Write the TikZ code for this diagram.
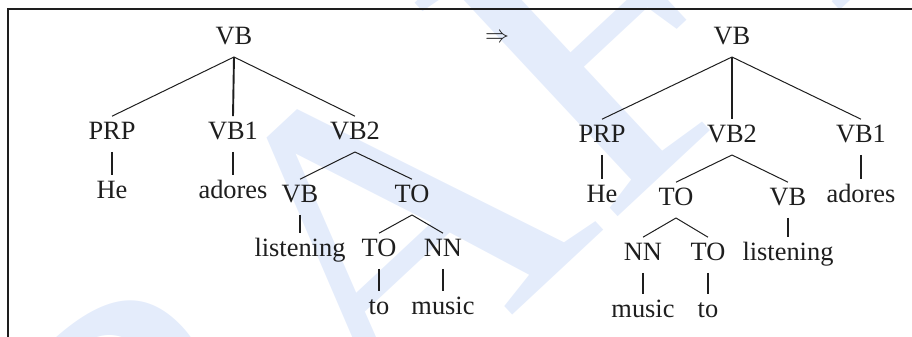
\documentclass[tikz,border=0pt]{standalone}
\usepackage{fontspec}
\setmainfont{Liberation Serif}
\definecolor{wmblue}{RGB}{228,236,251}
\definecolor{inkc}{RGB}{30,30,30}
\begin{document}
\begin{tikzpicture}[x=0.5pt,y=0.5pt,
  lab/.style={font=\fontsize{13.2}{15}\selectfont, anchor=base, inner sep=2.5pt,
    text height=9.2pt, text depth=3.3pt, text=inkc},
  diag/.style={draw=inkc, line width=0.5pt},
  vert/.style={draw=inkc, line width=0.95pt},
  frame/.style={draw=inkc, line width=0.9pt}]
\useasboundingbox (0,0) rectangle (912,337);
% watermark
\begin{scope}
\clip (0,0) rectangle (912,337);
\node[rotate=43, anchor=base west, inner sep=0, text=wmblue,
  font=\fontsize{225}{225}\selectfont] (wm) at (-89,-539) {DRAFT};
\end{scope}
% frame
\draw[frame] (912,328) -- (8,328) -- (8,0);
% left tree
\node[lab] (l0) at (234,292) {VB};
\node[lab] (l1) at (112,197) {PRP};
\node[lab] (l2) at (233,197) {VB1};
\node[lab] (l3) at (355,197) {VB2};
\node[lab] (l4) at (112,138) {He};
\node[lab] (l5) at (233,138) {adores};
\node[lab] (l6) at (300,134) {VB};
\node[lab] (l7) at (412,134) {TO};
\node[lab] (l8) at (300,80) {listening};
\node[lab] (l9) at (379,80) {TO};
\node[lab] (l10) at (443,80) {NN};
\node[lab] (l11) at (379,22) {to};
\node[lab] (l12) at (443,22) {music};
\draw[diag] (l0.south) -- (l1.north);
\draw[vert] (l0.south) -- (l2.north);
\draw[diag] (l0.south) -- (l3.north);
\draw[vert] (l1.south) -- (l4.north);
\draw[vert] (l2.south) -- (l5.north);
\draw[diag] (l3.south) -- (l6.north);
\draw[diag] (l3.south) -- (l7.north);
\draw[vert] (l6.south) -- (l8.north);
\draw[diag] (l7.south) -- (l9.north);
\draw[diag] (l7.south) -- (l10.north);
\draw[vert] (l9.south) -- (l11.north);
\draw[vert] (l10.south) -- (l12.north);
% arrow
\node[font=\fontsize{13.2}{15}\selectfont, text=inkc, inner sep=0] (arr) at (497,299) {$\Rightarrow$};
% right tree
\node[lab] (r0) at (732,292) {VB};
\node[lab] (r1) at (602,194) {PRP};
\node[lab] (r2) at (732,194) {VB2};
\node[lab] (r3) at (861,194) {VB1};
\node[lab] (r4) at (602,134) {He};
\node[lab] (r5) at (861,134) {adores};
\node[lab] (r6) at (676,131) {TO};
\node[lab] (r7) at (788,131) {VB};
\node[lab] (r8) at (643,76) {NN};
\node[lab] (r9) at (708,76) {TO};
\node[lab] (r10) at (788,76) {listening};
\node[lab] (r11) at (643,19) {music};
\node[lab] (r12) at (708,19) {to};
\draw[diag] (r0.south) -- (r1.north);
\draw[vert] (r0.south) -- (r2.north);
\draw[diag] (r0.south) -- (r3.north);
\draw[vert] (r1.south) -- (r4.north);
\draw[vert] (r3.south) -- (r5.north);
\draw[diag] (r2.south) -- (r6.north);
\draw[diag] (r2.south) -- (r7.north);
\draw[vert] (r7.south) -- (r10.north);
\draw[diag] (r6.south) -- (r8.north);
\draw[diag] (r6.south) -- (r9.north);
\draw[vert] (r8.south) -- (r11.north);
\draw[vert] (r9.south) -- (r12.north);
\end{tikzpicture}
\end{document}
